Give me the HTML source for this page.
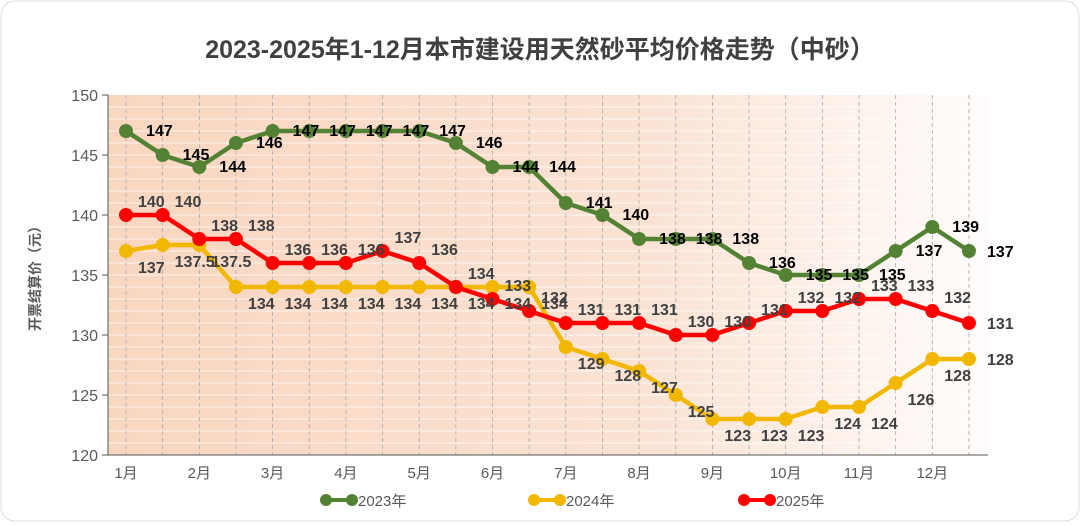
<!DOCTYPE html><html><head><meta charset="utf-8"><style>
body{margin:0;background:#fff;width:1080px;height:522px;overflow:hidden;font-family:"Liberation Sans","Noto Sans CJK SC",sans-serif}
</style></head><body>
<svg id="s" width="1080" height="522" xmlns="http://www.w3.org/2000/svg" font-family="Liberation Sans, Noto Sans CJK SC, sans-serif">
<defs><linearGradient id="g" x1="0" x2="1" y1="0" y2="0"><stop offset="0" stop-color="#f9d6c0"/><stop offset="0.6" stop-color="#fae2d3"/><stop offset="1" stop-color="#fffdfc"/></linearGradient></defs>
<rect x="1" y="1" width="1078" height="520" rx="14" fill="#fff" stroke="#ddd"/>
<text x="540" y="58" text-anchor="middle" font-size="25" font-weight="bold" fill="#404040">2023-2025年1-12月本市建设用天然砂平均价格走势（中砂）</text>
<rect x="108" y="95" width="880" height="360" fill="url(#g)"/>
<g id="grid"></g>
<g id="ser"></g>
</svg>
<script>
var s=document.getElementById('grid'),S=document.getElementById('ser'),ns='http://www.w3.org/2000/svg',h='';
function X(i){return 126+i*36.65}function Y(v){return 95+(150-v)*12}
for(var v=121;v<150;v++)h+='<line x1="108" x2="988" y1="'+Y(v)+'" y2="'+Y(v)+'" stroke="#fff" stroke-opacity="0.7" stroke-width="1"/>';
for(var i=0;i<24;i++)h+='<line x1="'+X(i)+'" x2="'+X(i)+'" y1="95" y2="455" stroke="#aaa" stroke-dasharray="4,3" stroke-width="0.8"/>';
h+='<line x1="108" x2="108" y1="95" y2="455" stroke="#555"/><line x1="108" x2="988" y1="455" y2="455" stroke="#555"/>';
for(var v=120;v<=150;v+=5){h+='<line x1="102" x2="108" y1="'+Y(v)+'" y2="'+Y(v)+'" stroke="#555"/><text x="98" y="'+(Y(v)+6)+'" text-anchor="end" font-size="16" fill="#595959">'+v+'</text>';}
for(var m=1;m<=12;m++)h+='<text x="'+X((m-1)*2)+'" y="478" text-anchor="middle" font-size="15" fill="#595959">'+m+'月</text>';
h+='<text transform="translate(40,275) rotate(-90)" text-anchor="middle" font-size="14" font-weight="bold" fill="#595959">开票结算价（元）</text>';
s.innerHTML=h;
var d=[
['#548235',[147,145,144,146,147,147,147,147,147,146,144,144,141,140,138,138,138,136,135,135,135,137,139,137],20,5,'#000'],
['#f2b800',[137,137.5,137.5,134,134,134,134,134,134,134,134,134,129,128,127,125,123,123,123,124,124,126,128,128],12,22,'#404040'],
['#ff0000',[140,140,138,138,136,136,136,137,136,134,133,132,131,131,131,130,130,131,132,132,133,133,132,131],12,-8,'#404040']];
var o='';
d.forEach(function(r){var p='';r[1].forEach(function(v,i){p+=(i?'L':'M')+X(i)+','+Y(v)});
o+='<path d="'+p+'" fill="none" stroke="'+r[0]+'" stroke-width="4.5" stroke-linejoin="round"/>';
r[1].forEach(function(v,i){o+='<circle cx="'+X(i)+'" cy="'+Y(v)+'" r="7" fill="'+r[0]+'"/>';});});
d.forEach(function(r){r[1].forEach(function(v,i){var last=i==23;o+='<text x="'+(X(i)+(last?18:r[2]))+'" y="'+(Y(v)+(last?6:r[3]))+'" font-size="16" font-weight="bold" fill="'+r[4]+'">'+v+'</text>';});});
var L=[[320,'#548235','2023年'],[528,'#f2b800','2024年'],[738,'#ff0000','2025年']];
L.forEach(function(l){o+='<line x1="'+(l[0]+6)+'" x2="'+(l[0]+32)+'" y1="500" y2="500" stroke="'+l[1]+'" stroke-width="4"/><circle cx="'+(l[0]+6)+'" cy="500" r="6" fill="'+l[1]+'"/><circle cx="'+(l[0]+32)+'" cy="500" r="6" fill="'+l[1]+'"/><text x="'+(l[0]+38)+'" y="506" font-size="15" fill="#595959">'+l[2]+'</text>';});
S.innerHTML=o;
</script>
</body></html>
